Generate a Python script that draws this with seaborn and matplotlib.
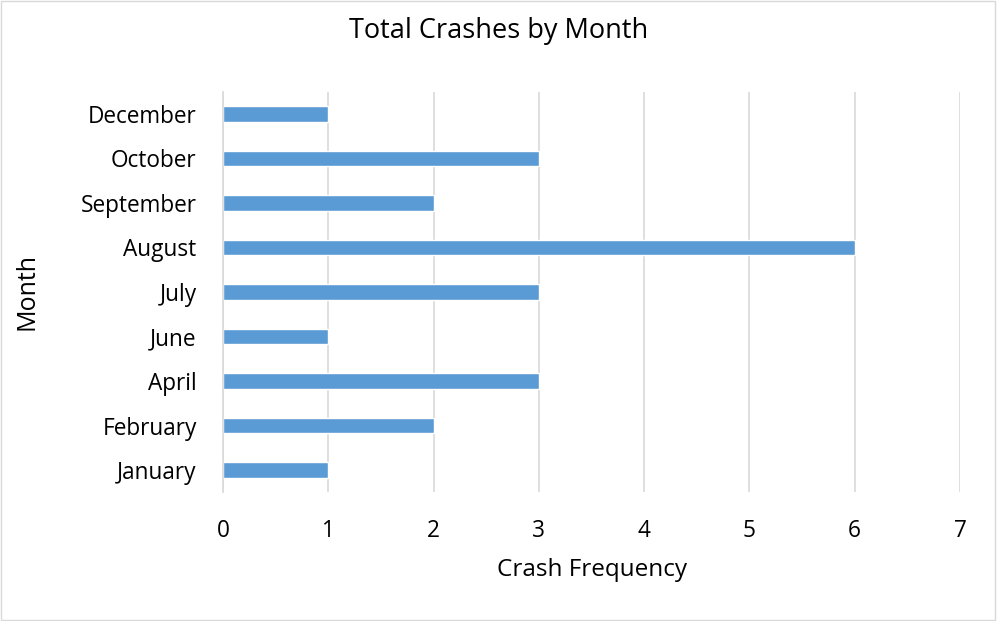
import matplotlib
matplotlib.use("Agg")
import matplotlib.pyplot as plt
import seaborn as sns
import pandas as pd

months = ["December", "October", "September", "August", "July", "June", "April", "February", "January"]
crashes = [1, 3, 2, 6, 3, 1, 3, 2, 1]
xticks = [0, 1, 2, 3, 4, 5, 6, 7]

df = pd.DataFrame({"Month": months, "Crash Frequency": crashes})

sns.set_theme(style="white")
plt.rcParams['font.family'] = ['Open Sans', 'DejaVu Sans']
plt.rcParams['text.color'] = 'black'
plt.rcParams['axes.labelcolor'] = 'black'

fig = plt.figure(figsize=(9.97, 6.21), dpi=100)
ax = fig.add_axes([0.2237, 0.2073, 0.7392, 0.645])

sns.barplot(data=df, x="Crash Frequency", y="Month", order=months, color="#5B9BD5",
            saturation=1, width=0.34, ax=ax)

ax.set_xlim(0, 7)
ax.set_xticks(xticks)
ax.set_xticklabels([str(t) for t in xticks])
ax.xaxis.grid(True, color="#D9D9D9", linewidth=1.2)
ax.set_axisbelow(True)
for s in ["top", "right", "bottom"]:
    ax.spines[s].set_visible(False)
ax.spines["left"].set_color("#D9D9D9")
ax.spines["left"].set_linewidth(1.2)
ax.tick_params(axis="both", length=0, labelsize=16.3, colors="black")
ax.tick_params(axis="y", pad=19)
ax.tick_params(axis="x", pad=19)
ax.set_xlabel("Crash Frequency", fontsize=17.5, va="center")
ax.set_ylabel("Month", fontsize=18, va="center")
ax.xaxis.set_label_coords(0.5, (492.25 - 570) / 400.5)
ax.yaxis.set_label_coords((27 - 223) / 737, 0.5)
fig.text(0.5, 1 - 31 / 621, "Total Crashes by Month", fontsize=19.5, ha="center", va="center")

fig.patches.append(plt.Rectangle((0.001, 0.002), 0.997, 0.996, transform=fig.transFigure,
                                 fill=False, edgecolor="#D9D9D9", linewidth=1))

fig.savefig("out.png", dpi=100)
